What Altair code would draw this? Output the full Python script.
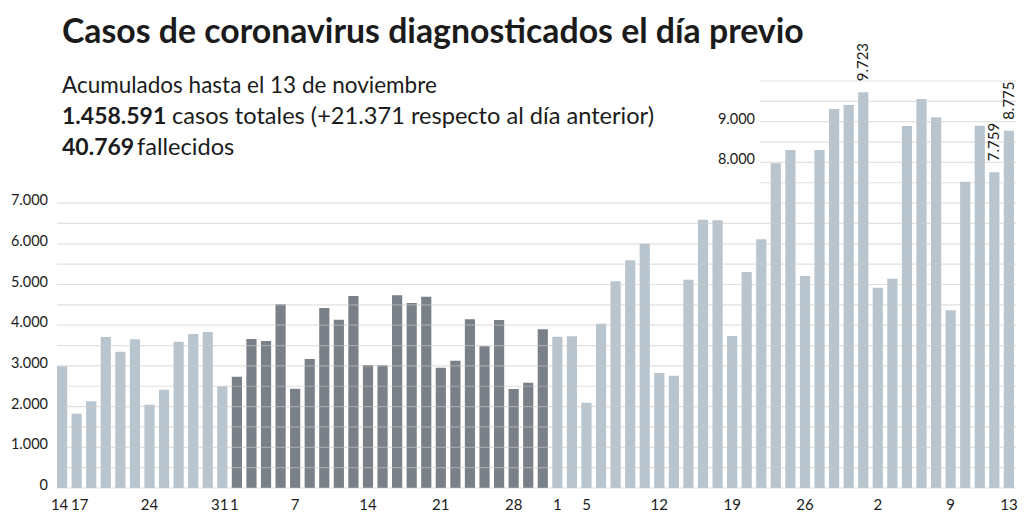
import altair as alt
import pandas as pd

# Días laborables con casos notificados (agosto-noviembre 2020)
agosto = [14, 17, 18, 19, 20, 21, 24, 25, 26, 27, 28, 31]
septiembre = [1, 2, 3, 4, 7, 8, 9, 10, 11, 14, 15, 16, 17, 18, 21, 22, 23, 24, 25, 28, 29, 30]
octubre = [1, 2, 5, 6, 7, 8, 9, 12, 13, 14, 15, 16, 19, 20, 21, 22, 23, 26, 27, 28, 29, 30]
noviembre = [2, 3, 4, 5, 6, 9, 10, 11, 12, 13]

casos = [
    2990, 1826, 2129, 3710, 3350, 3653, 2048, 2416, 3595, 3784, 3833, 2498,
    2735, 3661, 3612, 4513, 2441, 3170, 4423, 4136, 4717, 3022, 3016, 4734,
    4545, 4701, 2957, 3129, 4144, 3481, 4128, 2432, 2588, 3898,
    3718, 3726, 2097, 4038, 5078, 5594, 6003, 2826, 2760, 5119, 6593, 6577,
    3735, 5307, 6110, 7977, 8305, 5209, 8305, 9312, 9410, 9723,
    4922, 5143, 8894, 9558, 9107, 4365, 7527, 8903, 7759, 8775,
]

# Días con etiqueta en el eje horizontal
etiquetas_eje = {
    "2020-08-14": "14", "2020-08-17": "17", "2020-08-24": "24", "2020-08-31": "31",
    "2020-09-01": "1", "2020-09-07": "7", "2020-09-14": "14", "2020-09-21": "21",
    "2020-09-28": "28", "2020-10-01": "1", "2020-10-05": "5", "2020-10-12": "12",
    "2020-10-19": "19", "2020-10-26": "26", "2020-11-02": "2", "2020-11-09": "9",
    "2020-11-13": "13",
}
# Etiquetas que se desplazan un poco porque caen en barras contiguas
separar_izq = ["2020-08-14", "2020-08-31", "2020-09-01"]
separar_der = ["2020-08-17"]

# Barras con el valor escrito encima
valores_destacados = ["2020-10-30", "2020-11-12", "2020-11-13"]

marcas_izq = [0, 1000, 2000, 3000, 4000, 5000, 6000, 7000]
textos_izq = ["0", "1.000", "2.000", "3.000", "4.000", "5.000", "6.000", "7.000"]
marcas_der = [8000, 9000]
textos_der = ["8.000", "9.000"]
rejilla_baja = list(range(0, 7001, 500))
rejilla_alta = list(range(7500, 10001, 500))

fechas, tonos = [], []
for mes, dias, tono in [(8, agosto, "claro"), (9, septiembre, "oscuro"),
                        (10, octubre, "claro"), (11, noviembre, "claro")]:
    for d in dias:
        fechas.append(f"2020-{mes:02d}-{d:02d}")
        tonos.append(tono)


def miles(v):
    return f"{v:,}".replace(",", ".")


df = pd.DataFrame({"fecha": fechas, "casos": casos, "tono": tonos})
df["eje"] = df["fecha"].map(etiquetas_eje).fillna("")
df["valor"] = [miles(c) if f in valores_destacados else "" for f, c in zip(fechas, casos)]

FUENTE = "Lato"
TINTA = "#1b1b1b"

xs = alt.Scale(range=[57, 1014], paddingInner=0.3, paddingOuter=0)
ys = alt.Scale(domain=[0, 10000], range=[488, 81], nice=False)

barras = alt.Chart(df).mark_bar().encode(
    x=alt.X("fecha:O", scale=xs, axis=None),
    y=alt.Y("casos:Q", scale=ys, axis=None),
    color=alt.Color("tono:N", scale=alt.Scale(domain=["claro", "oscuro"],
                                              range=["#b8c5cf", "#7a8087"]), legend=None),
)

rej_baja = alt.Chart(pd.DataFrame({"v": rejilla_baja})).mark_rule(
    color="#c8c8c8", strokeWidth=1.2, opacity=0.55
).encode(y=alt.Y("v:Q", scale=ys), x=alt.value(57), x2=alt.value(1016))

rej_alta = alt.Chart(pd.DataFrame({"v": rejilla_alta})).mark_rule(
    color="#c8c8c8", strokeWidth=1.2, opacity=0.55
).encode(y=alt.Y("v:Q", scale=ys), x=alt.value(760), x2=alt.value(1016))

eje_izq = alt.Chart(pd.DataFrame({"v": marcas_izq, "t": textos_izq})).mark_text(
    align="right", baseline="alphabetic", dy=2, font=FUENTE, fontSize=14.5, color=TINTA
).encode(y=alt.Y("v:Q", scale=ys), x=alt.value(48), text="t:N")

eje_der = alt.Chart(pd.DataFrame({"v": marcas_der, "t": textos_der})).mark_text(
    align="right", baseline="alphabetic", dy=2, font=FUENTE, fontSize=14.5, color=TINTA
).encode(y=alt.Y("v:Q", scale=ys), x=alt.value(755), text="t:N")


def etiquetas_x(filas, desplazamiento):
    return alt.Chart(filas).mark_text(
        baseline="alphabetic", dx=desplazamiento, font=FUENTE, fontSize=15, color=TINTA
    ).encode(x=alt.X("fecha:O", scale=xs), y=alt.value(510), text="eje:N")


con_eje = df[df["eje"] != ""]
eje_x = etiquetas_x(con_eje[~con_eje["fecha"].isin(separar_izq + separar_der)], 0)
eje_x_izq = etiquetas_x(con_eje[con_eje["fecha"].isin(separar_izq)], -2.5)
eje_x_der = etiquetas_x(con_eje[con_eje["fecha"].isin(separar_der)], 3)

rotulos = alt.Chart(df[df["valor"] != ""]).mark_text(
    angle=270, align="left", baseline="middle", dx=11, font=FUENTE, fontSize=15, color=TINTA
).encode(x=alt.X("fecha:O", scale=xs), y=alt.Y("casos:Q", scale=ys), text="valor:N")


def texto(t, x, y, size, weight="normal"):
    return alt.Chart(pd.DataFrame({"t": [t]})).mark_text(
        align="left", baseline="alphabetic", font=FUENTE, fontSize=size,
        fontWeight=weight, color=TINTA
    ).encode(x=alt.value(x), y=alt.value(y), text="t:N")


titulo = texto("Casos de coronavirus diagnosticados el día previo", 62, 43, 33.8, "bold")
linea1 = texto("Acumulados hasta el 13 de noviembre", 62, 93, 22.5)
linea2a = texto("1.458.591", 62, 124, 23, "bold")
linea2b = texto("casos totales (+21.371 respecto al día anterior)", 172, 124, 23.6)
linea3a = texto("40.769", 62, 155, 23, "bold")
linea3b = texto("fallecidos", 137, 155, 23.6)

chart = alt.layer(
    barras, rej_baja, rej_alta, eje_izq, eje_der, eje_x, eje_x_izq, eje_x_der, rotulos,
    titulo, linea1, linea2a, linea2b, linea3a, linea3b,
).properties(
    width=1024, height=512, autosize=alt.AutoSizeParams(type="none"), padding=0,
    background="white",
).configure_view(strokeWidth=0)

chart.save("out.html", embed_options={"renderer": "svg", "actions": False})
